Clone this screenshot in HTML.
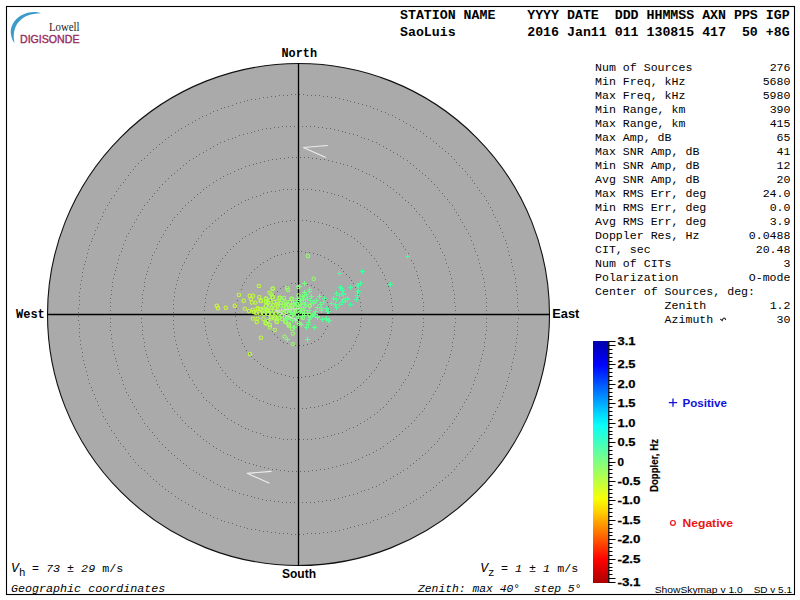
<!DOCTYPE html><html><head><meta charset="utf-8"><style>html,body{margin:0;padding:0;background:#fff;width:800px;height:600px;overflow:hidden;position:relative}</style></head><body><svg width="800" height="600" viewBox="0 0 800 600" style="position:absolute;left:0;top:0"><rect x="0" y="0" width="800" height="600" fill="#fff"/><rect x="6.5" y="6.5" width="788" height="588" fill="none" stroke="#000" stroke-width="1.1"/><path d="M41,13.2 C36,11.2 28,11.4 21,15.5 C13.5,20 10.2,27 10.8,33.5 C11.2,37.5 12.6,40.8 14.6,43 C13.6,39.5 13.4,35.5 14.2,31.5 C15.6,24.5 20,19 26.5,16 C31,14 36,13.2 41,13.2 Z" fill="#3c9bc9"/><text x="49" y="30.5" font-family="Liberation Serif" font-size="11.5" fill="#222" textLength="30.5" lengthAdjust="spacingAndGlyphs">Lowell</text><text x="20" y="43" font-family="Liberation Sans" font-size="10.6" fill="#962a60" stroke="#962a60" stroke-width="0.35" textLength="59.5" lengthAdjust="spacingAndGlyphs">DIGISONDE</text><text x="400" y="19" font-family="Liberation Mono" font-weight="bold" font-size="13.25" xml:space="preserve">STATION NAME    YYYY DATE  DDD HHMMSS AXN PPS IGP</text><text x="400" y="36" font-family="Liberation Mono" font-weight="bold" font-size="13.25" xml:space="preserve">SaoLuis         2016 Jan11 011 130815 417  50 +8G</text><circle cx="298.5" cy="314.5" r="251.0" fill="#aaaaaa" stroke="#111" stroke-width="1.1"/><path d="M329,314h1v1h-1zM329,318h1v1h-1zM328,322h1v1h-1zM327,326h1v1h-1zM325,329h1v1h-1zM323,333h1v1h-1zM321,336h1v1h-1zM318,339h1v1h-1zM314,341h1v1h-1zM311,343h1v1h-1zM307,344h1v1h-1zM303,345h1v1h-1zM299,345h1v1h-1zM295,345h1v1h-1zM291,345h1v1h-1zM287,343h1v1h-1zM283,342h1v1h-1zM280,340h1v1h-1zM277,337h1v1h-1zM274,334h1v1h-1zM272,331h1v1h-1zM270,328h1v1h-1zM268,324h1v1h-1zM267,320h1v1h-1zM267,316h1v1h-1zM267,312h1v1h-1zM267,308h1v1h-1zM268,304h1v1h-1zM270,300h1v1h-1zM272,297h1v1h-1zM274,294h1v1h-1zM277,291h1v1h-1zM280,288h1v1h-1zM283,286h1v1h-1zM287,285h1v1h-1zM291,283h1v1h-1zM295,283h1v1h-1zM299,283h1v1h-1zM303,283h1v1h-1zM307,284h1v1h-1zM311,285h1v1h-1zM314,287h1v1h-1zM318,289h1v1h-1zM321,292h1v1h-1zM323,295h1v1h-1zM325,299h1v1h-1zM327,302h1v1h-1zM328,306h1v1h-1zM329,310h1v1h-1zM361,314h1v1h-1zM361,318h1v1h-1zM360,322h1v1h-1zM360,326h1v1h-1zM359,330h1v1h-1zM358,334h1v1h-1zM356,337h1v1h-1zM355,341h1v1h-1zM353,345h1v1h-1zM351,348h1v1h-1zM349,351h1v1h-1zM346,354h1v1h-1zM343,357h1v1h-1zM341,360h1v1h-1zM338,363h1v1h-1zM334,365h1v1h-1zM331,367h1v1h-1zM328,369h1v1h-1zM324,371h1v1h-1zM320,373h1v1h-1zM317,374h1v1h-1zM313,375h1v1h-1zM309,376h1v1h-1zM305,376h1v1h-1zM301,377h1v1h-1zM297,377h1v1h-1zM293,377h1v1h-1zM289,376h1v1h-1zM285,375h1v1h-1zM281,374h1v1h-1zM277,373h1v1h-1zM274,372h1v1h-1zM270,370h1v1h-1zM267,368h1v1h-1zM263,366h1v1h-1zM260,364h1v1h-1zM257,361h1v1h-1zM254,359h1v1h-1zM251,356h1v1h-1zM249,353h1v1h-1zM246,350h1v1h-1zM244,346h1v1h-1zM242,343h1v1h-1zM241,339h1v1h-1zM239,335h1v1h-1zM238,332h1v1h-1zM237,328h1v1h-1zM236,324h1v1h-1zM236,320h1v1h-1zM235,316h1v1h-1zM235,312h1v1h-1zM236,308h1v1h-1zM236,304h1v1h-1zM237,300h1v1h-1zM238,296h1v1h-1zM239,293h1v1h-1zM241,289h1v1h-1zM242,285h1v1h-1zM244,282h1v1h-1zM246,278h1v1h-1zM249,275h1v1h-1zM251,272h1v1h-1zM254,269h1v1h-1zM257,267h1v1h-1zM260,264h1v1h-1zM263,262h1v1h-1zM267,260h1v1h-1zM270,258h1v1h-1zM274,256h1v1h-1zM277,255h1v1h-1zM281,254h1v1h-1zM285,253h1v1h-1zM289,252h1v1h-1zM293,251h1v1h-1zM297,251h1v1h-1zM301,251h1v1h-1zM305,252h1v1h-1zM309,252h1v1h-1zM313,253h1v1h-1zM317,254h1v1h-1zM320,255h1v1h-1zM324,257h1v1h-1zM328,259h1v1h-1zM331,261h1v1h-1zM334,263h1v1h-1zM338,265h1v1h-1zM341,268h1v1h-1zM343,271h1v1h-1zM346,274h1v1h-1zM349,277h1v1h-1zM351,280h1v1h-1zM353,283h1v1h-1zM355,287h1v1h-1zM356,291h1v1h-1zM358,294h1v1h-1zM359,298h1v1h-1zM360,302h1v1h-1zM360,306h1v1h-1zM361,310h1v1h-1zM392,314h1v1h-1zM392,318h1v1h-1zM392,322h1v1h-1zM391,326h1v1h-1zM391,330h1v1h-1zM390,334h1v1h-1zM389,338h1v1h-1zM388,342h1v1h-1zM387,345h1v1h-1zM385,349h1v1h-1zM384,353h1v1h-1zM382,356h1v1h-1zM380,360h1v1h-1zM378,363h1v1h-1zM376,367h1v1h-1zM374,370h1v1h-1zM371,373h1v1h-1zM369,376h1v1h-1zM366,379h1v1h-1zM363,382h1v1h-1zM360,385h1v1h-1zM357,387h1v1h-1zM354,390h1v1h-1zM351,392h1v1h-1zM347,394h1v1h-1zM344,396h1v1h-1zM340,398h1v1h-1zM337,400h1v1h-1zM333,401h1v1h-1zM329,403h1v1h-1zM326,404h1v1h-1zM322,405h1v1h-1zM318,406h1v1h-1zM314,407h1v1h-1zM310,407h1v1h-1zM306,408h1v1h-1zM302,408h1v1h-1zM298,408h1v1h-1zM294,408h1v1h-1zM290,408h1v1h-1zM286,407h1v1h-1zM282,407h1v1h-1zM278,406h1v1h-1zM274,405h1v1h-1zM270,404h1v1h-1zM267,403h1v1h-1zM263,401h1v1h-1zM259,400h1v1h-1zM256,398h1v1h-1zM252,396h1v1h-1zM249,394h1v1h-1zM245,392h1v1h-1zM242,390h1v1h-1zM239,387h1v1h-1zM236,385h1v1h-1zM233,382h1v1h-1zM230,379h1v1h-1zM227,376h1v1h-1zM225,373h1v1h-1zM222,370h1v1h-1zM220,367h1v1h-1zM218,363h1v1h-1zM216,360h1v1h-1zM214,356h1v1h-1zM212,353h1v1h-1zM211,349h1v1h-1zM209,345h1v1h-1zM208,342h1v1h-1zM207,338h1v1h-1zM206,334h1v1h-1zM205,330h1v1h-1zM205,326h1v1h-1zM204,322h1v1h-1zM204,318h1v1h-1zM204,314h1v1h-1zM204,310h1v1h-1zM204,306h1v1h-1zM205,302h1v1h-1zM205,298h1v1h-1zM206,294h1v1h-1zM207,290h1v1h-1zM208,286h1v1h-1zM209,283h1v1h-1zM211,279h1v1h-1zM212,275h1v1h-1zM214,272h1v1h-1zM216,268h1v1h-1zM218,265h1v1h-1zM220,261h1v1h-1zM222,258h1v1h-1zM225,255h1v1h-1zM227,252h1v1h-1zM230,249h1v1h-1zM233,246h1v1h-1zM236,243h1v1h-1zM239,241h1v1h-1zM242,238h1v1h-1zM245,236h1v1h-1zM249,234h1v1h-1zM252,232h1v1h-1zM256,230h1v1h-1zM259,228h1v1h-1zM263,227h1v1h-1zM267,225h1v1h-1zM270,224h1v1h-1zM274,223h1v1h-1zM278,222h1v1h-1zM282,221h1v1h-1zM286,221h1v1h-1zM290,220h1v1h-1zM294,220h1v1h-1zM298,220h1v1h-1zM302,220h1v1h-1zM306,220h1v1h-1zM310,221h1v1h-1zM314,221h1v1h-1zM318,222h1v1h-1zM322,223h1v1h-1zM326,224h1v1h-1zM329,225h1v1h-1zM333,227h1v1h-1zM337,228h1v1h-1zM340,230h1v1h-1zM344,232h1v1h-1zM347,234h1v1h-1zM351,236h1v1h-1zM354,238h1v1h-1zM357,241h1v1h-1zM360,243h1v1h-1zM363,246h1v1h-1zM366,249h1v1h-1zM369,252h1v1h-1zM371,255h1v1h-1zM374,258h1v1h-1zM376,261h1v1h-1zM378,265h1v1h-1zM380,268h1v1h-1zM382,272h1v1h-1zM384,275h1v1h-1zM385,279h1v1h-1zM387,283h1v1h-1zM388,286h1v1h-1zM389,290h1v1h-1zM390,294h1v1h-1zM391,298h1v1h-1zM391,302h1v1h-1zM392,306h1v1h-1zM392,310h1v1h-1zM424,314h1v1h-1zM423,318h1v1h-1zM423,322h1v1h-1zM423,326h1v1h-1zM422,330h1v1h-1zM422,334h1v1h-1zM421,338h1v1h-1zM420,342h1v1h-1zM419,346h1v1h-1zM418,350h1v1h-1zM417,353h1v1h-1zM416,357h1v1h-1zM414,361h1v1h-1zM413,365h1v1h-1zM411,368h1v1h-1zM409,372h1v1h-1zM408,375h1v1h-1zM405,379h1v1h-1zM403,382h1v1h-1zM401,385h1v1h-1zM399,389h1v1h-1zM396,392h1v1h-1zM394,395h1v1h-1zM391,398h1v1h-1zM388,401h1v1h-1zM386,404h1v1h-1zM383,407h1v1h-1zM380,409h1v1h-1zM377,412h1v1h-1zM374,414h1v1h-1zM370,417h1v1h-1zM367,419h1v1h-1zM364,421h1v1h-1zM360,423h1v1h-1zM357,425h1v1h-1zM353,427h1v1h-1zM349,428h1v1h-1zM346,430h1v1h-1zM342,432h1v1h-1zM338,433h1v1h-1zM334,434h1v1h-1zM331,435h1v1h-1zM327,436h1v1h-1zM323,437h1v1h-1zM319,438h1v1h-1zM315,438h1v1h-1zM311,439h1v1h-1zM307,439h1v1h-1zM303,439h1v1h-1zM299,439h1v1h-1zM295,439h1v1h-1zM291,439h1v1h-1zM287,439h1v1h-1zM283,439h1v1h-1zM279,438h1v1h-1zM275,437h1v1h-1zM271,437h1v1h-1zM267,436h1v1h-1zM263,435h1v1h-1zM260,433h1v1h-1zM256,432h1v1h-1zM252,431h1v1h-1zM248,429h1v1h-1zM245,428h1v1h-1zM241,426h1v1h-1zM238,424h1v1h-1zM234,422h1v1h-1zM231,420h1v1h-1zM227,418h1v1h-1zM224,415h1v1h-1zM221,413h1v1h-1zM218,410h1v1h-1zM215,408h1v1h-1zM212,405h1v1h-1zM209,402h1v1h-1zM206,400h1v1h-1zM203,397h1v1h-1zM201,393h1v1h-1zM198,390h1v1h-1zM196,387h1v1h-1zM194,384h1v1h-1zM192,380h1v1h-1zM189,377h1v1h-1zM188,374h1v1h-1zM186,370h1v1h-1zM184,366h1v1h-1zM182,363h1v1h-1zM181,359h1v1h-1zM179,355h1v1h-1zM178,351h1v1h-1zM177,348h1v1h-1zM176,344h1v1h-1zM175,340h1v1h-1zM174,336h1v1h-1zM174,332h1v1h-1zM173,328h1v1h-1zM173,324h1v1h-1zM173,320h1v1h-1zM173,316h1v1h-1zM173,312h1v1h-1zM173,308h1v1h-1zM173,304h1v1h-1zM173,300h1v1h-1zM174,296h1v1h-1zM174,292h1v1h-1zM175,288h1v1h-1zM176,284h1v1h-1zM177,280h1v1h-1zM178,277h1v1h-1zM179,273h1v1h-1zM181,269h1v1h-1zM182,265h1v1h-1zM184,262h1v1h-1zM186,258h1v1h-1zM188,254h1v1h-1zM189,251h1v1h-1zM192,248h1v1h-1zM194,244h1v1h-1zM196,241h1v1h-1zM198,238h1v1h-1zM201,235h1v1h-1zM203,231h1v1h-1zM206,228h1v1h-1zM209,226h1v1h-1zM212,223h1v1h-1zM215,220h1v1h-1zM218,218h1v1h-1zM221,215h1v1h-1zM224,213h1v1h-1zM227,210h1v1h-1zM231,208h1v1h-1zM234,206h1v1h-1zM238,204h1v1h-1zM241,202h1v1h-1zM245,200h1v1h-1zM248,199h1v1h-1zM252,197h1v1h-1zM256,196h1v1h-1zM260,195h1v1h-1zM263,193h1v1h-1zM267,192h1v1h-1zM271,191h1v1h-1zM275,191h1v1h-1zM279,190h1v1h-1zM283,189h1v1h-1zM287,189h1v1h-1zM291,189h1v1h-1zM295,189h1v1h-1zM299,189h1v1h-1zM303,189h1v1h-1zM307,189h1v1h-1zM311,189h1v1h-1zM315,190h1v1h-1zM319,190h1v1h-1zM323,191h1v1h-1zM327,192h1v1h-1zM331,193h1v1h-1zM334,194h1v1h-1zM338,195h1v1h-1zM342,196h1v1h-1zM346,198h1v1h-1zM349,200h1v1h-1zM353,201h1v1h-1zM357,203h1v1h-1zM360,205h1v1h-1zM364,207h1v1h-1zM367,209h1v1h-1zM370,211h1v1h-1zM374,214h1v1h-1zM377,216h1v1h-1zM380,219h1v1h-1zM383,221h1v1h-1zM386,224h1v1h-1zM388,227h1v1h-1zM391,230h1v1h-1zM394,233h1v1h-1zM396,236h1v1h-1zM399,239h1v1h-1zM401,243h1v1h-1zM403,246h1v1h-1zM405,249h1v1h-1zM408,253h1v1h-1zM409,256h1v1h-1zM411,260h1v1h-1zM413,263h1v1h-1zM414,267h1v1h-1zM416,271h1v1h-1zM417,275h1v1h-1zM418,278h1v1h-1zM419,282h1v1h-1zM420,286h1v1h-1zM421,290h1v1h-1zM422,294h1v1h-1zM422,298h1v1h-1zM423,302h1v1h-1zM423,306h1v1h-1zM423,310h1v1h-1zM455,314h1v1h-1zM455,318h1v1h-1zM455,322h1v1h-1zM454,326h1v1h-1zM454,330h1v1h-1zM454,334h1v1h-1zM453,338h1v1h-1zM452,342h1v1h-1zM452,346h1v1h-1zM451,350h1v1h-1zM450,354h1v1h-1zM449,357h1v1h-1zM448,361h1v1h-1zM446,365h1v1h-1zM445,369h1v1h-1zM444,373h1v1h-1zM442,376h1v1h-1zM440,380h1v1h-1zM439,384h1v1h-1zM437,387h1v1h-1zM435,391h1v1h-1zM433,394h1v1h-1zM431,398h1v1h-1zM429,401h1v1h-1zM426,404h1v1h-1zM424,408h1v1h-1zM422,411h1v1h-1zM419,414h1v1h-1zM416,417h1v1h-1zM414,420h1v1h-1zM411,423h1v1h-1zM408,426h1v1h-1zM405,428h1v1h-1zM402,431h1v1h-1zM399,434h1v1h-1zM396,436h1v1h-1zM393,439h1v1h-1zM390,441h1v1h-1zM387,443h1v1h-1zM383,446h1v1h-1zM380,448h1v1h-1zM376,450h1v1h-1zM373,452h1v1h-1zM369,454h1v1h-1zM366,455h1v1h-1zM362,457h1v1h-1zM358,459h1v1h-1zM355,460h1v1h-1zM351,462h1v1h-1zM347,463h1v1h-1zM343,464h1v1h-1zM340,465h1v1h-1zM336,466h1v1h-1zM332,467h1v1h-1zM328,468h1v1h-1zM324,469h1v1h-1zM320,469h1v1h-1zM316,470h1v1h-1zM312,470h1v1h-1zM308,471h1v1h-1zM304,471h1v1h-1zM300,471h1v1h-1zM296,471h1v1h-1zM292,471h1v1h-1zM288,471h1v1h-1zM284,470h1v1h-1zM280,470h1v1h-1zM276,469h1v1h-1zM272,469h1v1h-1zM268,468h1v1h-1zM264,467h1v1h-1zM260,466h1v1h-1zM256,465h1v1h-1zM253,464h1v1h-1zM249,463h1v1h-1zM245,462h1v1h-1zM241,460h1v1h-1zM238,459h1v1h-1zM234,457h1v1h-1zM230,455h1v1h-1zM227,454h1v1h-1zM223,452h1v1h-1zM220,450h1v1h-1zM216,448h1v1h-1zM213,446h1v1h-1zM209,443h1v1h-1zM206,441h1v1h-1zM203,439h1v1h-1zM200,436h1v1h-1zM197,434h1v1h-1zM194,431h1v1h-1zM191,428h1v1h-1zM188,426h1v1h-1zM185,423h1v1h-1zM182,420h1v1h-1zM180,417h1v1h-1zM177,414h1v1h-1zM174,411h1v1h-1zM172,408h1v1h-1zM170,404h1v1h-1zM167,401h1v1h-1zM165,398h1v1h-1zM163,394h1v1h-1zM161,391h1v1h-1zM159,387h1v1h-1zM157,384h1v1h-1zM156,380h1v1h-1zM154,376h1v1h-1zM152,373h1v1h-1zM151,369h1v1h-1zM150,365h1v1h-1zM148,361h1v1h-1zM147,357h1v1h-1zM146,354h1v1h-1zM145,350h1v1h-1zM144,346h1v1h-1zM144,342h1v1h-1zM143,338h1v1h-1zM142,334h1v1h-1zM142,330h1v1h-1zM142,326h1v1h-1zM141,322h1v1h-1zM141,318h1v1h-1zM141,314h1v1h-1zM141,310h1v1h-1zM141,306h1v1h-1zM142,302h1v1h-1zM142,298h1v1h-1zM142,294h1v1h-1zM143,290h1v1h-1zM144,286h1v1h-1zM144,282h1v1h-1zM145,278h1v1h-1zM146,274h1v1h-1zM147,271h1v1h-1zM148,267h1v1h-1zM150,263h1v1h-1zM151,259h1v1h-1zM152,255h1v1h-1zM154,252h1v1h-1zM156,248h1v1h-1zM157,244h1v1h-1zM159,241h1v1h-1zM161,237h1v1h-1zM163,234h1v1h-1zM165,230h1v1h-1zM167,227h1v1h-1zM170,224h1v1h-1zM172,220h1v1h-1zM174,217h1v1h-1zM177,214h1v1h-1zM180,211h1v1h-1zM182,208h1v1h-1zM185,205h1v1h-1zM188,202h1v1h-1zM191,200h1v1h-1zM194,197h1v1h-1zM197,194h1v1h-1zM200,192h1v1h-1zM203,189h1v1h-1zM206,187h1v1h-1zM209,185h1v1h-1zM213,182h1v1h-1zM216,180h1v1h-1zM220,178h1v1h-1zM223,176h1v1h-1zM227,174h1v1h-1zM230,173h1v1h-1zM234,171h1v1h-1zM238,169h1v1h-1zM241,168h1v1h-1zM245,166h1v1h-1zM249,165h1v1h-1zM253,164h1v1h-1zM256,163h1v1h-1zM260,162h1v1h-1zM264,161h1v1h-1zM268,160h1v1h-1zM272,159h1v1h-1zM276,159h1v1h-1zM280,158h1v1h-1zM284,158h1v1h-1zM288,157h1v1h-1zM292,157h1v1h-1zM296,157h1v1h-1zM300,157h1v1h-1zM304,157h1v1h-1zM308,157h1v1h-1zM312,158h1v1h-1zM316,158h1v1h-1zM320,159h1v1h-1zM324,159h1v1h-1zM328,160h1v1h-1zM332,161h1v1h-1zM336,162h1v1h-1zM340,163h1v1h-1zM343,164h1v1h-1zM347,165h1v1h-1zM351,166h1v1h-1zM355,168h1v1h-1zM358,169h1v1h-1zM362,171h1v1h-1zM366,173h1v1h-1zM369,174h1v1h-1zM373,176h1v1h-1zM376,178h1v1h-1zM380,180h1v1h-1zM383,182h1v1h-1zM387,185h1v1h-1zM390,187h1v1h-1zM393,189h1v1h-1zM396,192h1v1h-1zM399,194h1v1h-1zM402,197h1v1h-1zM405,200h1v1h-1zM408,202h1v1h-1zM411,205h1v1h-1zM414,208h1v1h-1zM416,211h1v1h-1zM419,214h1v1h-1zM422,217h1v1h-1zM424,220h1v1h-1zM426,224h1v1h-1zM429,227h1v1h-1zM431,230h1v1h-1zM433,234h1v1h-1zM435,237h1v1h-1zM437,241h1v1h-1zM439,244h1v1h-1zM440,248h1v1h-1zM442,252h1v1h-1zM444,255h1v1h-1zM445,259h1v1h-1zM446,263h1v1h-1zM448,267h1v1h-1zM449,271h1v1h-1zM450,274h1v1h-1zM451,278h1v1h-1zM452,282h1v1h-1zM452,286h1v1h-1zM453,290h1v1h-1zM454,294h1v1h-1zM454,298h1v1h-1zM454,302h1v1h-1zM455,306h1v1h-1zM455,310h1v1h-1zM486,314h1v1h-1zM486,318h1v1h-1zM486,322h1v1h-1zM486,326h1v1h-1zM486,330h1v1h-1zM485,334h1v1h-1zM485,338h1v1h-1zM484,342h1v1h-1zM484,346h1v1h-1zM483,350h1v1h-1zM482,354h1v1h-1zM481,358h1v1h-1zM480,361h1v1h-1zM479,365h1v1h-1zM478,369h1v1h-1zM477,373h1v1h-1zM475,377h1v1h-1zM474,380h1v1h-1zM473,384h1v1h-1zM471,388h1v1h-1zM470,392h1v1h-1zM468,395h1v1h-1zM466,399h1v1h-1zM464,402h1v1h-1zM462,406h1v1h-1zM460,409h1v1h-1zM458,413h1v1h-1zM456,416h1v1h-1zM454,419h1v1h-1zM452,423h1v1h-1zM449,426h1v1h-1zM447,429h1v1h-1zM444,432h1v1h-1zM442,435h1v1h-1zM439,438h1v1h-1zM437,441h1v1h-1zM434,444h1v1h-1zM431,447h1v1h-1zM428,450h1v1h-1zM425,453h1v1h-1zM422,455h1v1h-1zM419,458h1v1h-1zM416,460h1v1h-1zM413,463h1v1h-1zM410,465h1v1h-1zM407,468h1v1h-1zM403,470h1v1h-1zM400,472h1v1h-1zM397,474h1v1h-1zM393,476h1v1h-1zM390,478h1v1h-1zM386,480h1v1h-1zM383,482h1v1h-1zM379,484h1v1h-1zM376,486h1v1h-1zM372,487h1v1h-1zM368,489h1v1h-1zM364,490h1v1h-1zM361,491h1v1h-1zM357,493h1v1h-1zM353,494h1v1h-1zM349,495h1v1h-1zM345,496h1v1h-1zM342,497h1v1h-1zM338,498h1v1h-1zM334,499h1v1h-1zM330,500h1v1h-1zM326,500h1v1h-1zM322,501h1v1h-1zM318,501h1v1h-1zM314,502h1v1h-1zM310,502h1v1h-1zM306,502h1v1h-1zM302,502h1v1h-1zM298,502h1v1h-1zM294,502h1v1h-1zM290,502h1v1h-1zM286,502h1v1h-1zM282,502h1v1h-1zM278,501h1v1h-1zM274,501h1v1h-1zM270,500h1v1h-1zM266,500h1v1h-1zM262,499h1v1h-1zM258,498h1v1h-1zM254,497h1v1h-1zM251,496h1v1h-1zM247,495h1v1h-1zM243,494h1v1h-1zM239,493h1v1h-1zM235,491h1v1h-1zM232,490h1v1h-1zM228,489h1v1h-1zM224,487h1v1h-1zM220,486h1v1h-1zM217,484h1v1h-1zM213,482h1v1h-1zM210,480h1v1h-1zM206,478h1v1h-1zM203,476h1v1h-1zM199,474h1v1h-1zM196,472h1v1h-1zM193,470h1v1h-1zM189,468h1v1h-1zM186,465h1v1h-1zM183,463h1v1h-1zM180,460h1v1h-1zM177,458h1v1h-1zM174,455h1v1h-1zM171,453h1v1h-1zM168,450h1v1h-1zM165,447h1v1h-1zM162,444h1v1h-1zM159,441h1v1h-1zM157,438h1v1h-1zM154,435h1v1h-1zM152,432h1v1h-1zM149,429h1v1h-1zM147,426h1v1h-1zM144,423h1v1h-1zM142,419h1v1h-1zM140,416h1v1h-1zM138,413h1v1h-1zM136,409h1v1h-1zM134,406h1v1h-1zM132,402h1v1h-1zM130,399h1v1h-1zM128,395h1v1h-1zM126,392h1v1h-1zM125,388h1v1h-1zM123,384h1v1h-1zM122,380h1v1h-1zM121,377h1v1h-1zM119,373h1v1h-1zM118,369h1v1h-1zM117,365h1v1h-1zM116,361h1v1h-1zM115,358h1v1h-1zM114,354h1v1h-1zM113,350h1v1h-1zM112,346h1v1h-1zM112,342h1v1h-1zM111,338h1v1h-1zM111,334h1v1h-1zM110,330h1v1h-1zM110,326h1v1h-1zM110,322h1v1h-1zM110,318h1v1h-1zM110,314h1v1h-1zM110,310h1v1h-1zM110,306h1v1h-1zM110,302h1v1h-1zM110,298h1v1h-1zM111,294h1v1h-1zM111,290h1v1h-1zM112,286h1v1h-1zM112,282h1v1h-1zM113,278h1v1h-1zM114,274h1v1h-1zM115,270h1v1h-1zM116,267h1v1h-1zM117,263h1v1h-1zM118,259h1v1h-1zM119,255h1v1h-1zM121,251h1v1h-1zM122,248h1v1h-1zM123,244h1v1h-1zM125,240h1v1h-1zM126,236h1v1h-1zM128,233h1v1h-1zM130,229h1v1h-1zM132,226h1v1h-1zM134,222h1v1h-1zM136,219h1v1h-1zM138,215h1v1h-1zM140,212h1v1h-1zM142,209h1v1h-1zM144,205h1v1h-1zM147,202h1v1h-1zM149,199h1v1h-1zM152,196h1v1h-1zM154,193h1v1h-1zM157,190h1v1h-1zM159,187h1v1h-1zM162,184h1v1h-1zM165,181h1v1h-1zM168,178h1v1h-1zM171,175h1v1h-1zM174,173h1v1h-1zM177,170h1v1h-1zM180,168h1v1h-1zM183,165h1v1h-1zM186,163h1v1h-1zM189,160h1v1h-1zM193,158h1v1h-1zM196,156h1v1h-1zM199,154h1v1h-1zM203,152h1v1h-1zM206,150h1v1h-1zM210,148h1v1h-1zM213,146h1v1h-1zM217,144h1v1h-1zM220,142h1v1h-1zM224,141h1v1h-1zM228,139h1v1h-1zM232,138h1v1h-1zM235,137h1v1h-1zM239,135h1v1h-1zM243,134h1v1h-1zM247,133h1v1h-1zM251,132h1v1h-1zM254,131h1v1h-1zM258,130h1v1h-1zM262,129h1v1h-1zM266,128h1v1h-1zM270,128h1v1h-1zM274,127h1v1h-1zM278,127h1v1h-1zM282,126h1v1h-1zM286,126h1v1h-1zM290,126h1v1h-1zM294,126h1v1h-1zM298,126h1v1h-1zM302,126h1v1h-1zM306,126h1v1h-1zM310,126h1v1h-1zM314,126h1v1h-1zM318,127h1v1h-1zM322,127h1v1h-1zM326,128h1v1h-1zM330,128h1v1h-1zM334,129h1v1h-1zM338,130h1v1h-1zM342,131h1v1h-1zM345,132h1v1h-1zM349,133h1v1h-1zM353,134h1v1h-1zM357,135h1v1h-1zM361,137h1v1h-1zM364,138h1v1h-1zM368,139h1v1h-1zM372,141h1v1h-1zM376,142h1v1h-1zM379,144h1v1h-1zM383,146h1v1h-1zM386,148h1v1h-1zM390,150h1v1h-1zM393,152h1v1h-1zM397,154h1v1h-1zM400,156h1v1h-1zM403,158h1v1h-1zM407,160h1v1h-1zM410,163h1v1h-1zM413,165h1v1h-1zM416,168h1v1h-1zM419,170h1v1h-1zM422,173h1v1h-1zM425,175h1v1h-1zM428,178h1v1h-1zM431,181h1v1h-1zM434,184h1v1h-1zM437,187h1v1h-1zM439,190h1v1h-1zM442,193h1v1h-1zM444,196h1v1h-1zM447,199h1v1h-1zM449,202h1v1h-1zM452,205h1v1h-1zM454,209h1v1h-1zM456,212h1v1h-1zM458,215h1v1h-1zM460,219h1v1h-1zM462,222h1v1h-1zM464,226h1v1h-1zM466,229h1v1h-1zM468,233h1v1h-1zM470,236h1v1h-1zM471,240h1v1h-1zM473,244h1v1h-1zM474,248h1v1h-1zM475,251h1v1h-1zM477,255h1v1h-1zM478,259h1v1h-1zM479,263h1v1h-1zM480,267h1v1h-1zM481,270h1v1h-1zM482,274h1v1h-1zM483,278h1v1h-1zM484,282h1v1h-1zM484,286h1v1h-1zM485,290h1v1h-1zM485,294h1v1h-1zM486,298h1v1h-1zM486,302h1v1h-1zM486,306h1v1h-1zM486,310h1v1h-1zM518,314h1v1h-1zM518,318h1v1h-1zM517,322h1v1h-1zM517,326h1v1h-1zM517,330h1v1h-1zM517,334h1v1h-1zM516,338h1v1h-1zM516,342h1v1h-1zM515,346h1v1h-1zM515,350h1v1h-1zM514,354h1v1h-1zM513,358h1v1h-1zM512,362h1v1h-1zM511,366h1v1h-1zM511,369h1v1h-1zM509,373h1v1h-1zM508,377h1v1h-1zM507,381h1v1h-1zM506,385h1v1h-1zM505,388h1v1h-1zM503,392h1v1h-1zM502,396h1v1h-1zM500,400h1v1h-1zM499,403h1v1h-1zM497,407h1v1h-1zM495,411h1v1h-1zM493,414h1v1h-1zM492,418h1v1h-1zM490,421h1v1h-1zM488,425h1v1h-1zM486,428h1v1h-1zM484,432h1v1h-1zM481,435h1v1h-1zM479,438h1v1h-1zM477,441h1v1h-1zM474,445h1v1h-1zM472,448h1v1h-1zM470,451h1v1h-1zM467,454h1v1h-1zM465,457h1v1h-1zM462,460h1v1h-1zM459,463h1v1h-1zM456,466h1v1h-1zM454,469h1v1h-1zM451,472h1v1h-1zM448,475h1v1h-1zM445,477h1v1h-1zM442,480h1v1h-1zM439,482h1v1h-1zM436,485h1v1h-1zM433,487h1v1h-1zM430,490h1v1h-1zM426,492h1v1h-1zM423,495h1v1h-1zM420,497h1v1h-1zM416,499h1v1h-1zM413,501h1v1h-1zM410,503h1v1h-1zM406,505h1v1h-1zM403,507h1v1h-1zM399,509h1v1h-1zM395,511h1v1h-1zM392,513h1v1h-1zM388,514h1v1h-1zM385,516h1v1h-1zM381,517h1v1h-1zM377,519h1v1h-1zM373,520h1v1h-1zM370,522h1v1h-1zM366,523h1v1h-1zM362,524h1v1h-1zM358,525h1v1h-1zM354,526h1v1h-1zM350,527h1v1h-1zM347,528h1v1h-1zM343,529h1v1h-1zM339,530h1v1h-1zM335,531h1v1h-1zM331,531h1v1h-1zM327,532h1v1h-1zM323,532h1v1h-1zM319,533h1v1h-1zM315,533h1v1h-1zM311,533h1v1h-1zM307,533h1v1h-1zM303,534h1v1h-1zM299,534h1v1h-1zM295,534h1v1h-1zM291,534h1v1h-1zM287,533h1v1h-1zM283,533h1v1h-1zM279,533h1v1h-1zM275,532h1v1h-1zM271,532h1v1h-1zM267,531h1v1h-1zM263,531h1v1h-1zM259,530h1v1h-1zM255,529h1v1h-1zM251,529h1v1h-1zM247,528h1v1h-1zM244,527h1v1h-1zM240,526h1v1h-1zM236,525h1v1h-1zM232,523h1v1h-1zM228,522h1v1h-1zM224,521h1v1h-1zM221,520h1v1h-1zM217,518h1v1h-1zM213,517h1v1h-1zM210,515h1v1h-1zM206,513h1v1h-1zM202,512h1v1h-1zM199,510h1v1h-1zM195,508h1v1h-1zM192,506h1v1h-1zM188,504h1v1h-1zM185,502h1v1h-1zM181,500h1v1h-1zM178,498h1v1h-1zM175,496h1v1h-1zM171,493h1v1h-1zM168,491h1v1h-1zM165,489h1v1h-1zM162,486h1v1h-1zM159,484h1v1h-1zM156,481h1v1h-1zM153,479h1v1h-1zM150,476h1v1h-1zM147,473h1v1h-1zM144,470h1v1h-1zM141,468h1v1h-1zM138,465h1v1h-1zM135,462h1v1h-1zM133,459h1v1h-1zM130,456h1v1h-1zM128,453h1v1h-1zM125,449h1v1h-1zM123,446h1v1h-1zM120,443h1v1h-1zM118,440h1v1h-1zM116,437h1v1h-1zM114,433h1v1h-1zM111,430h1v1h-1zM109,426h1v1h-1zM107,423h1v1h-1zM105,419h1v1h-1zM103,416h1v1h-1zM102,412h1v1h-1zM100,409h1v1h-1zM98,405h1v1h-1zM97,401h1v1h-1zM95,398h1v1h-1zM94,394h1v1h-1zM92,390h1v1h-1zM91,387h1v1h-1zM89,383h1v1h-1zM88,379h1v1h-1zM87,375h1v1h-1zM86,371h1v1h-1zM85,367h1v1h-1zM84,364h1v1h-1zM83,360h1v1h-1zM82,356h1v1h-1zM82,352h1v1h-1zM81,348h1v1h-1zM80,344h1v1h-1zM80,340h1v1h-1zM79,336h1v1h-1zM79,332h1v1h-1zM79,328h1v1h-1zM79,324h1v1h-1zM78,320h1v1h-1zM78,316h1v1h-1zM78,312h1v1h-1zM78,308h1v1h-1zM79,304h1v1h-1zM79,300h1v1h-1zM79,296h1v1h-1zM79,292h1v1h-1zM80,288h1v1h-1zM80,284h1v1h-1zM81,280h1v1h-1zM82,276h1v1h-1zM82,272h1v1h-1zM83,268h1v1h-1zM84,264h1v1h-1zM85,261h1v1h-1zM86,257h1v1h-1zM87,253h1v1h-1zM88,249h1v1h-1zM89,245h1v1h-1zM91,241h1v1h-1zM92,238h1v1h-1zM94,234h1v1h-1zM95,230h1v1h-1zM97,227h1v1h-1zM98,223h1v1h-1zM100,219h1v1h-1zM102,216h1v1h-1zM103,212h1v1h-1zM105,209h1v1h-1zM107,205h1v1h-1zM109,202h1v1h-1zM111,198h1v1h-1zM114,195h1v1h-1zM116,191h1v1h-1zM118,188h1v1h-1zM120,185h1v1h-1zM123,182h1v1h-1zM125,179h1v1h-1zM128,175h1v1h-1zM130,172h1v1h-1zM133,169h1v1h-1zM135,166h1v1h-1zM138,163h1v1h-1zM141,160h1v1h-1zM144,158h1v1h-1zM147,155h1v1h-1zM150,152h1v1h-1zM153,149h1v1h-1zM156,147h1v1h-1zM159,144h1v1h-1zM162,142h1v1h-1zM165,139h1v1h-1zM168,137h1v1h-1zM171,135h1v1h-1zM175,132h1v1h-1zM178,130h1v1h-1zM181,128h1v1h-1zM185,126h1v1h-1zM188,124h1v1h-1zM192,122h1v1h-1zM195,120h1v1h-1zM199,118h1v1h-1zM202,116h1v1h-1zM206,115h1v1h-1zM210,113h1v1h-1zM213,111h1v1h-1zM217,110h1v1h-1zM221,108h1v1h-1zM224,107h1v1h-1zM228,106h1v1h-1zM232,105h1v1h-1zM236,103h1v1h-1zM240,102h1v1h-1zM244,101h1v1h-1zM247,100h1v1h-1zM251,99h1v1h-1zM255,99h1v1h-1zM259,98h1v1h-1zM263,97h1v1h-1zM267,97h1v1h-1zM271,96h1v1h-1zM275,96h1v1h-1zM279,95h1v1h-1zM283,95h1v1h-1zM287,95h1v1h-1zM291,94h1v1h-1zM295,94h1v1h-1zM299,94h1v1h-1zM303,94h1v1h-1zM307,95h1v1h-1zM311,95h1v1h-1zM315,95h1v1h-1zM319,95h1v1h-1zM323,96h1v1h-1zM327,96h1v1h-1zM331,97h1v1h-1zM335,97h1v1h-1zM339,98h1v1h-1zM343,99h1v1h-1zM347,100h1v1h-1zM350,101h1v1h-1zM354,102h1v1h-1zM358,103h1v1h-1zM362,104h1v1h-1zM366,105h1v1h-1zM370,106h1v1h-1zM373,108h1v1h-1zM377,109h1v1h-1zM381,111h1v1h-1zM385,112h1v1h-1zM388,114h1v1h-1zM392,115h1v1h-1zM395,117h1v1h-1zM399,119h1v1h-1zM403,121h1v1h-1zM406,123h1v1h-1zM410,125h1v1h-1zM413,127h1v1h-1zM416,129h1v1h-1zM420,131h1v1h-1zM423,133h1v1h-1zM426,136h1v1h-1zM430,138h1v1h-1zM433,141h1v1h-1zM436,143h1v1h-1zM439,146h1v1h-1zM442,148h1v1h-1zM445,151h1v1h-1zM448,153h1v1h-1zM451,156h1v1h-1zM454,159h1v1h-1zM456,162h1v1h-1zM459,165h1v1h-1zM462,168h1v1h-1zM465,171h1v1h-1zM467,174h1v1h-1zM470,177h1v1h-1zM472,180h1v1h-1zM474,183h1v1h-1zM477,187h1v1h-1zM479,190h1v1h-1zM481,193h1v1h-1zM484,196h1v1h-1zM486,200h1v1h-1zM488,203h1v1h-1zM490,207h1v1h-1zM492,210h1v1h-1zM493,214h1v1h-1zM495,217h1v1h-1zM497,221h1v1h-1zM499,225h1v1h-1zM500,228h1v1h-1zM502,232h1v1h-1zM503,236h1v1h-1zM505,240h1v1h-1zM506,243h1v1h-1zM507,247h1v1h-1zM508,251h1v1h-1zM509,255h1v1h-1zM511,259h1v1h-1zM511,262h1v1h-1zM512,266h1v1h-1zM513,270h1v1h-1zM514,274h1v1h-1zM515,278h1v1h-1zM515,282h1v1h-1zM516,286h1v1h-1zM516,290h1v1h-1zM517,294h1v1h-1zM517,298h1v1h-1zM517,302h1v1h-1zM517,306h1v1h-1zM518,310h1v1h-1z" fill="#666666"/><line x1="298.5" y1="63.5" x2="298.5" y2="565.5" stroke="#000" stroke-width="1.3"/><line x1="47.5" y1="314.5" x2="549.5" y2="314.5" stroke="#000" stroke-width="1.3"/><text x="281.5" y="57" font-family="Liberation Mono" font-weight="bold" font-size="12.8" textLength="35.5" lengthAdjust="spacingAndGlyphs">North</text><text x="299" y="578" text-anchor="middle" font-family="Liberation Sans" font-weight="bold" font-size="12">South</text><text x="16" y="318" font-family="Liberation Mono" font-weight="bold" font-size="12">West</text><text x="552.3" y="318" font-family="Liberation Sans" font-weight="bold" font-size="12" textLength="27" lengthAdjust="spacingAndGlyphs">East</text><polyline points="327.8,145.5 303.3,147.5 325.8,157.5" fill="none" stroke="#ececec" stroke-width="1.2"/><polyline points="271.5,471.3 247,473.3 269.5,483.3" fill="none" stroke="#ececec" stroke-width="1.2"/><circle cx="307.90" cy="255.90" r="1.7" fill="none" stroke="rgb(140,255,108)" stroke-width="1.05"/><circle cx="313.75" cy="278.75" r="1.7" fill="none" stroke="rgb(140,255,108)" stroke-width="1.05"/><circle cx="258.80" cy="285.90" r="1.7" fill="none" stroke="rgb(192,255,50)" stroke-width="1.05"/><circle cx="238.90" cy="294.90" r="1.7" fill="none" stroke="rgb(192,255,50)" stroke-width="1.05"/><circle cx="216.75" cy="305.70" r="1.7" fill="none" stroke="rgb(205,255,36)" stroke-width="1.05"/><circle cx="218.00" cy="308.20" r="1.7" fill="none" stroke="rgb(205,255,36)" stroke-width="1.05"/><circle cx="225.75" cy="307.75" r="1.7" fill="none" stroke="rgb(205,255,36)" stroke-width="1.05"/><circle cx="234.75" cy="305.80" r="1.7" fill="none" stroke="rgb(205,255,36)" stroke-width="1.05"/><circle cx="243.70" cy="300.80" r="1.7" fill="none" stroke="rgb(192,255,50)" stroke-width="1.05"/><circle cx="244.80" cy="308.60" r="1.7" fill="none" stroke="rgb(192,255,50)" stroke-width="1.05"/><circle cx="249.75" cy="295.75" r="1.7" fill="none" stroke="rgb(192,255,50)" stroke-width="1.05"/><circle cx="253.10" cy="295.75" r="1.7" fill="none" stroke="rgb(192,255,50)" stroke-width="1.05"/><circle cx="250.80" cy="298.75" r="1.7" fill="none" stroke="rgb(192,255,50)" stroke-width="1.05"/><circle cx="251.80" cy="302.50" r="1.7" fill="none" stroke="rgb(192,255,50)" stroke-width="1.05"/><circle cx="255.60" cy="302.60" r="1.7" fill="none" stroke="rgb(192,255,50)" stroke-width="1.05"/><circle cx="259.30" cy="297.20" r="1.7" fill="none" stroke="rgb(192,255,50)" stroke-width="1.05"/><circle cx="260.75" cy="300.50" r="1.7" fill="none" stroke="rgb(192,255,50)" stroke-width="1.05"/><circle cx="265.80" cy="298.60" r="1.7" fill="none" stroke="rgb(176,255,72)" stroke-width="1.05"/><circle cx="265.80" cy="301.80" r="1.7" fill="none" stroke="rgb(176,255,72)" stroke-width="1.05"/><circle cx="268.00" cy="302.75" r="1.7" fill="none" stroke="rgb(176,255,72)" stroke-width="1.05"/><circle cx="261.00" cy="301.00" r="1.7" fill="none" stroke="rgb(192,255,50)" stroke-width="1.05"/><circle cx="266.20" cy="302.10" r="1.7" fill="none" stroke="rgb(176,255,72)" stroke-width="1.05"/><circle cx="269.50" cy="292.60" r="1.7" fill="none" stroke="rgb(176,255,72)" stroke-width="1.05"/><circle cx="271.50" cy="294.50" r="1.7" fill="none" stroke="rgb(176,255,72)" stroke-width="1.05"/><circle cx="273.00" cy="297.30" r="1.7" fill="none" stroke="rgb(176,255,72)" stroke-width="1.05"/><circle cx="273.00" cy="288.75" r="1.7" fill="none" stroke="rgb(176,255,72)" stroke-width="1.05"/><circle cx="280.00" cy="297.75" r="1.7" fill="none" stroke="rgb(152,255,98)" stroke-width="1.05"/><circle cx="272.60" cy="288.50" r="1.7" fill="none" stroke="rgb(176,255,72)" stroke-width="1.05"/><circle cx="287.00" cy="287.75" r="1.7" fill="none" stroke="rgb(152,255,98)" stroke-width="1.05"/><circle cx="288.00" cy="290.00" r="1.7" fill="none" stroke="rgb(152,255,98)" stroke-width="1.05"/><circle cx="252.75" cy="309.60" r="1.7" fill="none" stroke="rgb(192,255,50)" stroke-width="1.05"/><circle cx="257.50" cy="308.30" r="1.7" fill="none" stroke="rgb(192,255,50)" stroke-width="1.05"/><circle cx="260.50" cy="309.00" r="1.7" fill="none" stroke="rgb(192,255,50)" stroke-width="1.05"/><circle cx="264.00" cy="308.50" r="1.7" fill="none" stroke="rgb(176,255,72)" stroke-width="1.05"/><circle cx="266.50" cy="310.00" r="1.7" fill="none" stroke="rgb(176,255,72)" stroke-width="1.05"/><circle cx="258.00" cy="308.90" r="1.7" fill="none" stroke="rgb(192,255,50)" stroke-width="1.05"/><circle cx="262.50" cy="310.00" r="1.7" fill="none" stroke="rgb(176,255,72)" stroke-width="1.05"/><circle cx="268.00" cy="310.75" r="1.7" fill="none" stroke="rgb(176,255,72)" stroke-width="1.05"/><circle cx="252.90" cy="318.60" r="1.7" fill="none" stroke="rgb(192,255,50)" stroke-width="1.05"/><circle cx="256.75" cy="322.00" r="1.7" fill="none" stroke="rgb(192,255,50)" stroke-width="1.05"/><circle cx="257.50" cy="318.60" r="1.7" fill="none" stroke="rgb(192,255,50)" stroke-width="1.05"/><circle cx="263.50" cy="319.00" r="1.7" fill="none" stroke="rgb(176,255,72)" stroke-width="1.05"/><circle cx="265.40" cy="322.75" r="1.7" fill="none" stroke="rgb(176,255,72)" stroke-width="1.05"/><circle cx="265.90" cy="323.60" r="1.7" fill="none" stroke="rgb(176,255,72)" stroke-width="1.05"/><circle cx="269.90" cy="325.00" r="1.7" fill="none" stroke="rgb(176,255,72)" stroke-width="1.05"/><circle cx="269.90" cy="327.30" r="1.7" fill="none" stroke="rgb(176,255,72)" stroke-width="1.05"/><circle cx="274.75" cy="329.90" r="1.7" fill="none" stroke="rgb(176,255,72)" stroke-width="1.05"/><circle cx="260.90" cy="337.75" r="1.7" fill="none" stroke="rgb(192,255,50)" stroke-width="1.05"/><circle cx="250.00" cy="354.30" r="1.7" fill="none" stroke="rgb(192,255,50)" stroke-width="1.05"/><circle cx="284.50" cy="336.60" r="1.7" fill="none" stroke="rgb(152,255,98)" stroke-width="1.05"/><circle cx="292.75" cy="344.10" r="1.7" fill="none" stroke="rgb(152,255,98)" stroke-width="1.05"/><circle cx="292.90" cy="333.60" r="1.7" fill="none" stroke="rgb(152,255,98)" stroke-width="1.05"/><circle cx="271.00" cy="318.60" r="1.7" fill="none" stroke="rgb(176,255,72)" stroke-width="1.05"/><circle cx="274.75" cy="318.25" r="1.7" fill="none" stroke="rgb(176,255,72)" stroke-width="1.05"/><circle cx="279.25" cy="318.25" r="1.7" fill="none" stroke="rgb(176,255,72)" stroke-width="1.05"/><circle cx="277.00" cy="322.00" r="1.7" fill="none" stroke="rgb(176,255,72)" stroke-width="1.05"/><circle cx="286.00" cy="322.00" r="1.7" fill="none" stroke="rgb(152,255,98)" stroke-width="1.05"/><circle cx="289.00" cy="324.25" r="1.7" fill="none" stroke="rgb(152,255,98)" stroke-width="1.05"/><circle cx="289.00" cy="326.10" r="1.7" fill="none" stroke="rgb(152,255,98)" stroke-width="1.05"/><circle cx="292.00" cy="328.75" r="1.7" fill="none" stroke="rgb(152,255,98)" stroke-width="1.05"/><circle cx="298.60" cy="323.50" r="1.7" fill="none" stroke="rgb(140,255,108)" stroke-width="1.05"/><circle cx="309.50" cy="314.50" r="1.7" fill="none" stroke="rgb(140,255,108)" stroke-width="1.05"/><circle cx="302.75" cy="317.90" r="1.7" fill="none" stroke="rgb(140,255,108)" stroke-width="1.05"/><circle cx="301.90" cy="301.75" r="1.7" fill="none" stroke="rgb(140,255,108)" stroke-width="1.05"/><circle cx="309.75" cy="305.90" r="1.7" fill="none" stroke="rgb(140,255,108)" stroke-width="1.05"/><circle cx="309.40" cy="314.90" r="1.7" fill="none" stroke="rgb(140,255,108)" stroke-width="1.05"/><circle cx="313.50" cy="314.90" r="1.7" fill="none" stroke="rgb(140,255,108)" stroke-width="1.05"/><circle cx="343.50" cy="300.60" r="1.7" fill="none" stroke="rgb(100,255,150)" stroke-width="1.05"/><circle cx="344.10" cy="300.50" r="1.7" fill="none" stroke="rgb(100,255,150)" stroke-width="1.05"/><circle cx="298.50" cy="287.00" r="1.7" fill="none" stroke="rgb(140,255,108)" stroke-width="1.05"/><circle cx="298.50" cy="295.50" r="1.7" fill="none" stroke="rgb(140,255,108)" stroke-width="1.05"/><circle cx="292.00" cy="298.75" r="1.7" fill="none" stroke="rgb(152,255,98)" stroke-width="1.05"/><circle cx="309.50" cy="305.50" r="1.7" fill="none" stroke="rgb(140,255,108)" stroke-width="1.05"/><circle cx="272.50" cy="296.50" r="1.7" fill="none" stroke="rgb(176,255,72)" stroke-width="1.05"/><circle cx="279.50" cy="297.75" r="1.7" fill="none" stroke="rgb(176,255,72)" stroke-width="1.05"/><circle cx="291.25" cy="298.75" r="1.7" fill="none" stroke="rgb(152,255,98)" stroke-width="1.05"/><circle cx="266.00" cy="298.50" r="1.7" fill="none" stroke="rgb(176,255,72)" stroke-width="1.05"/><circle cx="268.00" cy="302.25" r="1.7" fill="none" stroke="rgb(176,255,72)" stroke-width="1.05"/><circle cx="277.25" cy="301.50" r="1.7" fill="none" stroke="rgb(176,255,72)" stroke-width="1.05"/><circle cx="280.75" cy="303.00" r="1.7" fill="none" stroke="rgb(152,255,98)" stroke-width="1.05"/><circle cx="285.50" cy="301.75" r="1.7" fill="none" stroke="rgb(152,255,98)" stroke-width="1.05"/><circle cx="273.25" cy="305.50" r="1.7" fill="none" stroke="rgb(176,255,72)" stroke-width="1.05"/><circle cx="277.50" cy="306.00" r="1.7" fill="none" stroke="rgb(176,255,72)" stroke-width="1.05"/><circle cx="281.00" cy="305.50" r="1.7" fill="none" stroke="rgb(152,255,98)" stroke-width="1.05"/><circle cx="271.50" cy="307.50" r="1.7" fill="none" stroke="rgb(176,255,72)" stroke-width="1.05"/><circle cx="275.00" cy="308.00" r="1.7" fill="none" stroke="rgb(176,255,72)" stroke-width="1.05"/><circle cx="267.25" cy="310.00" r="1.7" fill="none" stroke="rgb(176,255,72)" stroke-width="1.05"/><circle cx="271.00" cy="310.50" r="1.7" fill="none" stroke="rgb(176,255,72)" stroke-width="1.05"/><circle cx="277.50" cy="310.50" r="1.7" fill="none" stroke="rgb(176,255,72)" stroke-width="1.05"/><circle cx="286.00" cy="307.00" r="1.7" fill="none" stroke="rgb(152,255,98)" stroke-width="1.05"/><circle cx="288.00" cy="305.00" r="1.7" fill="none" stroke="rgb(152,255,98)" stroke-width="1.05"/><circle cx="289.50" cy="307.50" r="1.7" fill="none" stroke="rgb(152,255,98)" stroke-width="1.05"/><circle cx="293.00" cy="305.00" r="1.7" fill="none" stroke="rgb(140,255,108)" stroke-width="1.05"/><circle cx="295.00" cy="307.00" r="1.7" fill="none" stroke="rgb(140,255,108)" stroke-width="1.05"/><circle cx="297.00" cy="304.00" r="1.7" fill="none" stroke="rgb(140,255,108)" stroke-width="1.05"/><circle cx="271.00" cy="317.00" r="1.7" fill="none" stroke="rgb(176,255,72)" stroke-width="1.05"/><circle cx="275.00" cy="316.50" r="1.7" fill="none" stroke="rgb(176,255,72)" stroke-width="1.05"/><circle cx="279.50" cy="317.50" r="1.7" fill="none" stroke="rgb(176,255,72)" stroke-width="1.05"/><circle cx="276.50" cy="321.50" r="1.7" fill="none" stroke="rgb(176,255,72)" stroke-width="1.05"/><circle cx="285.00" cy="321.50" r="1.7" fill="none" stroke="rgb(152,255,98)" stroke-width="1.05"/><circle cx="287.00" cy="317.00" r="1.7" fill="none" stroke="rgb(152,255,98)" stroke-width="1.05"/><circle cx="268.00" cy="321.00" r="1.7" fill="none" stroke="rgb(176,255,72)" stroke-width="1.05"/><circle cx="288.50" cy="324.50" r="1.7" fill="none" stroke="rgb(152,255,98)" stroke-width="1.05"/><circle cx="293.00" cy="311.00" r="1.7" fill="none" stroke="rgb(140,255,108)" stroke-width="1.05"/><circle cx="295.00" cy="311.50" r="1.7" fill="none" stroke="rgb(140,255,108)" stroke-width="1.05"/><circle cx="297.50" cy="311.00" r="1.7" fill="none" stroke="rgb(140,255,108)" stroke-width="1.05"/><circle cx="283.00" cy="309.00" r="1.7" fill="none" stroke="rgb(152,255,98)" stroke-width="1.05"/><circle cx="284.00" cy="313.00" r="1.7" fill="none" stroke="rgb(152,255,98)" stroke-width="1.05"/><circle cx="280.00" cy="313.00" r="1.7" fill="none" stroke="rgb(152,255,98)" stroke-width="1.05"/><circle cx="276.00" cy="313.50" r="1.7" fill="none" stroke="rgb(176,255,72)" stroke-width="1.05"/><circle cx="272.00" cy="313.50" r="1.7" fill="none" stroke="rgb(176,255,72)" stroke-width="1.05"/><circle cx="268.00" cy="314.00" r="1.7" fill="none" stroke="rgb(176,255,72)" stroke-width="1.05"/><circle cx="264.00" cy="314.00" r="1.7" fill="none" stroke="rgb(176,255,72)" stroke-width="1.05"/><circle cx="260.00" cy="313.50" r="1.7" fill="none" stroke="rgb(192,255,50)" stroke-width="1.05"/><circle cx="256.00" cy="313.00" r="1.7" fill="none" stroke="rgb(192,255,50)" stroke-width="1.05"/><circle cx="289.00" cy="313.00" r="1.7" fill="none" stroke="rgb(152,255,98)" stroke-width="1.05"/><circle cx="291.00" cy="316.00" r="1.7" fill="none" stroke="rgb(152,255,98)" stroke-width="1.05"/><circle cx="282.00" cy="319.00" r="1.7" fill="none" stroke="rgb(152,255,98)" stroke-width="1.05"/><circle cx="282.00" cy="300.00" r="1.7" fill="none" stroke="rgb(152,255,98)" stroke-width="1.05"/><circle cx="286.00" cy="304.00" r="1.7" fill="none" stroke="rgb(152,255,98)" stroke-width="1.05"/><circle cx="290.00" cy="309.00" r="1.7" fill="none" stroke="rgb(152,255,98)" stroke-width="1.05"/><circle cx="294.00" cy="314.00" r="1.7" fill="none" stroke="rgb(140,255,108)" stroke-width="1.05"/><circle cx="282.00" cy="316.00" r="1.7" fill="none" stroke="rgb(152,255,98)" stroke-width="1.05"/><circle cx="286.00" cy="312.00" r="1.7" fill="none" stroke="rgb(152,255,98)" stroke-width="1.05"/><circle cx="278.00" cy="304.00" r="1.7" fill="none" stroke="rgb(176,255,72)" stroke-width="1.05"/><circle cx="274.00" cy="302.00" r="1.7" fill="none" stroke="rgb(176,255,72)" stroke-width="1.05"/><circle cx="270.00" cy="305.00" r="1.7" fill="none" stroke="rgb(176,255,72)" stroke-width="1.05"/><circle cx="266.00" cy="306.00" r="1.7" fill="none" stroke="rgb(176,255,72)" stroke-width="1.05"/><circle cx="284.00" cy="306.00" r="1.7" fill="none" stroke="rgb(152,255,98)" stroke-width="1.05"/><circle cx="292.00" cy="306.00" r="1.7" fill="none" stroke="rgb(152,255,98)" stroke-width="1.05"/><circle cx="270.00" cy="300.00" r="1.7" fill="none" stroke="rgb(176,255,72)" stroke-width="1.05"/><circle cx="284.00" cy="298.00" r="1.7" fill="none" stroke="rgb(152,255,98)" stroke-width="1.05"/><circle cx="290.00" cy="302.00" r="1.7" fill="none" stroke="rgb(152,255,98)" stroke-width="1.05"/><circle cx="295.00" cy="302.00" r="1.7" fill="none" stroke="rgb(140,255,108)" stroke-width="1.05"/><circle cx="254.00" cy="312.00" r="1.7" fill="none" stroke="rgb(192,255,50)" stroke-width="1.05"/><circle cx="249.00" cy="311.00" r="1.7" fill="none" stroke="rgb(192,255,50)" stroke-width="1.05"/><circle cx="300.00" cy="307.00" r="1.7" fill="none" stroke="rgb(140,255,108)" stroke-width="1.05"/><circle cx="303.00" cy="311.00" r="1.7" fill="none" stroke="rgb(140,255,108)" stroke-width="1.05"/><circle cx="306.00" cy="312.00" r="1.7" fill="none" stroke="rgb(140,255,108)" stroke-width="1.05"/><path d="M405.00,256.50H410.00M407.50,254.00V259.00" stroke="rgb(66,255,162)" stroke-width="1.1" fill="none"/><path d="M388.00,284.50H393.00M390.50,282.00V287.00" stroke="rgb(66,255,162)" stroke-width="1.1" fill="none"/><path d="M337.00,273.50H342.00M339.50,271.00V276.00" stroke="rgb(66,255,162)" stroke-width="1.1" fill="none"/><path d="M360.00,271.50H365.00M362.50,269.00V274.00" stroke="rgb(66,255,162)" stroke-width="1.1" fill="none"/><path d="M338.00,287.50H343.00M340.50,285.00V290.00" stroke="rgb(66,255,162)" stroke-width="1.1" fill="none"/><path d="M339.00,288.50H344.00M341.50,286.00V291.00" stroke="rgb(66,255,162)" stroke-width="1.1" fill="none"/><path d="M348.00,287.50H353.00M350.50,285.00V290.00" stroke="rgb(66,255,162)" stroke-width="1.1" fill="none"/><path d="M355.00,285.50H360.00M357.50,283.00V288.00" stroke="rgb(66,255,162)" stroke-width="1.1" fill="none"/><path d="M358.00,283.50H363.00M360.50,281.00V286.00" stroke="rgb(66,255,162)" stroke-width="1.1" fill="none"/><path d="M302.00,283.50H307.00M304.50,281.00V286.00" stroke="rgb(120,255,128)" stroke-width="1.1" fill="none"/><path d="M297.00,286.50H302.00M299.50,284.00V289.00" stroke="rgb(120,255,128)" stroke-width="1.1" fill="none"/><path d="M307.00,289.50H312.00M309.50,287.00V292.00" stroke="rgb(100,255,140)" stroke-width="1.1" fill="none"/><path d="M307.00,291.50H312.00M309.50,289.00V294.00" stroke="rgb(100,255,140)" stroke-width="1.1" fill="none"/><path d="M305.00,298.50H310.00M307.50,296.00V301.00" stroke="rgb(100,255,140)" stroke-width="1.1" fill="none"/><path d="M317.00,296.50H322.00M319.50,294.00V299.00" stroke="rgb(100,255,140)" stroke-width="1.1" fill="none"/><path d="M322.00,298.50H327.00M324.50,296.00V301.00" stroke="rgb(80,255,152)" stroke-width="1.1" fill="none"/><path d="M321.00,302.50H326.00M323.50,300.00V305.00" stroke="rgb(80,255,152)" stroke-width="1.1" fill="none"/><path d="M318.00,304.50H323.00M320.50,302.00V307.00" stroke="rgb(100,255,140)" stroke-width="1.1" fill="none"/><path d="M311.00,303.50H316.00M313.50,301.00V306.00" stroke="rgb(100,255,140)" stroke-width="1.1" fill="none"/><path d="M315.00,307.50H320.00M317.50,305.00V310.00" stroke="rgb(100,255,140)" stroke-width="1.1" fill="none"/><path d="M319.00,308.50H324.00M321.50,306.00V311.00" stroke="rgb(100,255,140)" stroke-width="1.1" fill="none"/><path d="M324.00,308.50H329.00M326.50,306.00V311.00" stroke="rgb(80,255,152)" stroke-width="1.1" fill="none"/><path d="M326.00,311.50H331.00M328.50,309.00V314.00" stroke="rgb(80,255,152)" stroke-width="1.1" fill="none"/><path d="M338.00,287.50H343.00M340.50,285.00V290.00" stroke="rgb(66,255,162)" stroke-width="1.1" fill="none"/><path d="M340.00,290.50H345.00M342.50,288.00V293.00" stroke="rgb(66,255,162)" stroke-width="1.1" fill="none"/><path d="M341.00,293.50H346.00M343.50,291.00V296.00" stroke="rgb(66,255,162)" stroke-width="1.1" fill="none"/><path d="M334.00,293.50H339.00M336.50,291.00V296.00" stroke="rgb(80,255,152)" stroke-width="1.1" fill="none"/><path d="M337.00,295.50H342.00M339.50,293.00V298.00" stroke="rgb(66,255,162)" stroke-width="1.1" fill="none"/><path d="M331.00,298.50H336.00M333.50,296.00V301.00" stroke="rgb(80,255,152)" stroke-width="1.1" fill="none"/><path d="M334.00,299.50H339.00M336.50,297.00V302.00" stroke="rgb(80,255,152)" stroke-width="1.1" fill="none"/><path d="M329.00,303.50H334.00M331.50,301.00V306.00" stroke="rgb(80,255,152)" stroke-width="1.1" fill="none"/><path d="M333.00,304.50H338.00M335.50,302.00V307.00" stroke="rgb(80,255,152)" stroke-width="1.1" fill="none"/><path d="M337.00,304.50H342.00M339.50,302.00V307.00" stroke="rgb(66,255,162)" stroke-width="1.1" fill="none"/><path d="M334.00,307.50H339.00M336.50,305.00V310.00" stroke="rgb(80,255,152)" stroke-width="1.1" fill="none"/><path d="M340.00,302.50H345.00M342.50,300.00V305.00" stroke="rgb(66,255,162)" stroke-width="1.1" fill="none"/><path d="M343.00,299.50H348.00M345.50,297.00V302.00" stroke="rgb(66,255,162)" stroke-width="1.1" fill="none"/><path d="M345.00,298.50H350.00M347.50,296.00V301.00" stroke="rgb(66,255,162)" stroke-width="1.1" fill="none"/><path d="M348.00,304.50H353.00M350.50,302.00V307.00" stroke="rgb(66,255,162)" stroke-width="1.1" fill="none"/><path d="M348.00,287.50H353.00M350.50,285.00V290.00" stroke="rgb(66,255,162)" stroke-width="1.1" fill="none"/><path d="M355.00,285.50H360.00M357.50,283.00V288.00" stroke="rgb(66,255,162)" stroke-width="1.1" fill="none"/><path d="M355.00,291.50H360.00M357.50,289.00V294.00" stroke="rgb(66,255,162)" stroke-width="1.1" fill="none"/><path d="M355.00,295.50H360.00M357.50,293.00V298.00" stroke="rgb(66,255,162)" stroke-width="1.1" fill="none"/><path d="M354.00,299.50H359.00M356.50,297.00V302.00" stroke="rgb(66,255,162)" stroke-width="1.1" fill="none"/><path d="M320.00,319.50H325.00M322.50,317.00V322.00" stroke="rgb(80,255,152)" stroke-width="1.1" fill="none"/><path d="M324.00,319.50H329.00M326.50,317.00V322.00" stroke="rgb(80,255,152)" stroke-width="1.1" fill="none"/><path d="M327.00,320.50H332.00M329.50,318.00V323.00" stroke="rgb(80,255,152)" stroke-width="1.1" fill="none"/><path d="M307.00,310.50H312.00M309.50,308.00V313.00" stroke="rgb(100,255,140)" stroke-width="1.1" fill="none"/><path d="M313.00,311.50H318.00M315.50,309.00V314.00" stroke="rgb(100,255,140)" stroke-width="1.1" fill="none"/><path d="M315.00,316.50H320.00M317.50,314.00V319.00" stroke="rgb(100,255,140)" stroke-width="1.1" fill="none"/><path d="M310.00,315.50H315.00M312.50,313.00V318.00" stroke="rgb(100,255,140)" stroke-width="1.1" fill="none"/><path d="M306.00,322.50H311.00M308.50,320.00V325.00" stroke="rgb(100,255,140)" stroke-width="1.1" fill="none"/><path d="M302.00,313.50H307.00M304.50,311.00V316.00" stroke="rgb(120,255,128)" stroke-width="1.1" fill="none"/><path d="M299.00,324.50H304.00M301.50,322.00V327.00" stroke="rgb(120,255,128)" stroke-width="1.1" fill="none"/><path d="M292.00,327.50H297.00M294.50,325.00V330.00" stroke="rgb(120,255,128)" stroke-width="1.1" fill="none"/><path d="M305.00,339.50H310.00M307.50,337.00V342.00" stroke="rgb(100,255,140)" stroke-width="1.1" fill="none"/><path d="M304.00,327.50H309.00M306.50,325.00V330.00" stroke="rgb(100,255,140)" stroke-width="1.1" fill="none"/><path d="M306.00,324.50H311.00M308.50,322.00V327.00" stroke="rgb(100,255,140)" stroke-width="1.1" fill="none"/><path d="M312.00,327.50H317.00M314.50,325.00V330.00" stroke="rgb(100,255,140)" stroke-width="1.1" fill="none"/><path d="M307.00,319.50H312.00M309.50,317.00V322.00" stroke="rgb(100,255,140)" stroke-width="1.1" fill="none"/><path d="M315.00,317.50H320.00M317.50,315.00V320.00" stroke="rgb(100,255,140)" stroke-width="1.1" fill="none"/><path d="M320.00,319.50H325.00M322.50,317.00V322.00" stroke="rgb(80,255,152)" stroke-width="1.1" fill="none"/><path d="M324.00,318.50H329.00M326.50,316.00V321.00" stroke="rgb(80,255,152)" stroke-width="1.1" fill="none"/><path d="M326.00,320.50H331.00M328.50,318.00V323.00" stroke="rgb(80,255,152)" stroke-width="1.1" fill="none"/><path d="M319.00,310.50H324.00M321.50,308.00V313.00" stroke="rgb(100,255,140)" stroke-width="1.1" fill="none"/><path d="M325.00,311.50H330.00M327.50,309.00V314.00" stroke="rgb(80,255,152)" stroke-width="1.1" fill="none"/><path d="M302.00,315.50H307.00M304.50,313.00V318.00" stroke="rgb(120,255,128)" stroke-width="1.1" fill="none"/><path d="M308.00,317.50H313.00M310.50,315.00V320.00" stroke="rgb(100,255,140)" stroke-width="1.1" fill="none"/><path d="M312.00,314.50H317.00M314.50,312.00V317.00" stroke="rgb(100,255,140)" stroke-width="1.1" fill="none"/><path d="M291.00,314.50H296.00M293.50,312.00V317.00" stroke="rgb(120,255,128)" stroke-width="1.1" fill="none"/><path d="M356.00,285.50H361.00M358.50,283.00V288.00" stroke="rgb(66,255,162)" stroke-width="1.1" fill="none"/><path d="M358.00,283.50H363.00M360.50,281.00V286.00" stroke="rgb(66,255,162)" stroke-width="1.1" fill="none"/><path d="M356.00,291.50H361.00M358.50,289.00V294.00" stroke="rgb(66,255,162)" stroke-width="1.1" fill="none"/><path d="M355.00,295.50H360.00M357.50,293.00V298.00" stroke="rgb(66,255,162)" stroke-width="1.1" fill="none"/><path d="M354.00,299.50H359.00M356.50,297.00V302.00" stroke="rgb(66,255,162)" stroke-width="1.1" fill="none"/><path d="M348.00,304.50H353.00M350.50,302.00V307.00" stroke="rgb(66,255,162)" stroke-width="1.1" fill="none"/><path d="M345.00,299.50H350.00M347.50,297.00V302.00" stroke="rgb(66,255,162)" stroke-width="1.1" fill="none"/><path d="M341.00,294.50H346.00M343.50,292.00V297.00" stroke="rgb(66,255,162)" stroke-width="1.1" fill="none"/><path d="M340.00,290.50H345.00M342.50,288.00V293.00" stroke="rgb(66,255,162)" stroke-width="1.1" fill="none"/><path d="M285.00,339.50H290.00M287.50,337.00V342.00" stroke="rgb(120,255,128)" stroke-width="1.1" fill="none"/><path d="M291.00,327.50H296.00M293.50,325.00V330.00" stroke="rgb(120,255,128)" stroke-width="1.1" fill="none"/><path d="M285.00,319.50H290.00M287.50,317.00V322.00" stroke="rgb(120,255,128)" stroke-width="1.1" fill="none"/><path d="M291.00,313.50H296.00M293.50,311.00V316.00" stroke="rgb(120,255,128)" stroke-width="1.1" fill="none"/><path d="M302.00,292.50H307.00M304.50,290.00V295.00" stroke="rgb(120,255,128)" stroke-width="1.1" fill="none"/><path d="M305.00,298.50H310.00M307.50,296.00V301.00" stroke="rgb(100,255,140)" stroke-width="1.1" fill="none"/><path d="M295.00,298.50H300.00M297.50,296.00V301.00" stroke="rgb(120,255,128)" stroke-width="1.1" fill="none"/><path d="M311.00,302.50H316.00M313.50,300.00V305.00" stroke="rgb(100,255,140)" stroke-width="1.1" fill="none"/><path d="M295.00,298.50H300.00M297.50,296.00V301.00" stroke="rgb(120,255,128)" stroke-width="1.1" fill="none"/><path d="M298.00,300.50H303.00M300.50,298.00V303.00" stroke="rgb(120,255,128)" stroke-width="1.1" fill="none"/><path d="M301.00,299.50H306.00M303.50,297.00V302.00" stroke="rgb(120,255,128)" stroke-width="1.1" fill="none"/><path d="M299.00,304.50H304.00M301.50,302.00V307.00" stroke="rgb(120,255,128)" stroke-width="1.1" fill="none"/><path d="M301.00,308.50H306.00M303.50,306.00V311.00" stroke="rgb(120,255,128)" stroke-width="1.1" fill="none"/><path d="M298.00,311.50H303.00M300.50,309.00V314.00" stroke="rgb(120,255,128)" stroke-width="1.1" fill="none"/><path d="M291.00,314.50H296.00M293.50,312.00V317.00" stroke="rgb(120,255,128)" stroke-width="1.1" fill="none"/><path d="M300.00,316.50H305.00M302.50,314.00V319.00" stroke="rgb(120,255,128)" stroke-width="1.1" fill="none"/><path d="M288.00,318.50H293.00M290.50,316.00V321.00" stroke="rgb(120,255,128)" stroke-width="1.1" fill="none"/><path d="M284.00,318.50H289.00M286.50,316.00V321.00" stroke="rgb(120,255,128)" stroke-width="1.1" fill="none"/><path d="M297.00,323.50H302.00M299.50,321.00V326.00" stroke="rgb(120,255,128)" stroke-width="1.1" fill="none"/><path d="M302.00,295.50H307.00M304.50,293.00V298.00" stroke="rgb(120,255,128)" stroke-width="1.1" fill="none"/><path d="M300.00,296.50H305.00M302.50,294.00V299.00" stroke="rgb(120,255,128)" stroke-width="1.1" fill="none"/><path d="M294.00,302.50H299.00M296.50,300.00V305.00" stroke="rgb(120,255,128)" stroke-width="1.1" fill="none"/><path d="M297.00,306.50H302.00M299.50,304.00V309.00" stroke="rgb(120,255,128)" stroke-width="1.1" fill="none"/><path d="M296.00,316.50H301.00M298.50,314.00V319.00" stroke="rgb(120,255,128)" stroke-width="1.1" fill="none"/><path d="M293.00,320.50H298.00M295.50,318.00V323.00" stroke="rgb(120,255,128)" stroke-width="1.1" fill="none"/><path d="M288.00,312.50H293.00M290.50,310.00V315.00" stroke="rgb(120,255,128)" stroke-width="1.1" fill="none"/><path d="M302.00,304.50H307.00M304.50,302.00V307.00" stroke="rgb(120,255,128)" stroke-width="1.1" fill="none"/><path d="M304.00,294.50H309.00M306.50,292.00V297.00" stroke="rgb(100,255,140)" stroke-width="1.1" fill="none"/><path d="M303.00,302.50H308.00M305.50,300.00V305.00" stroke="rgb(100,255,140)" stroke-width="1.1" fill="none"/><path d="M308.00,300.50H313.00M310.50,298.00V303.00" stroke="rgb(100,255,140)" stroke-width="1.1" fill="none"/><path d="M294.00,318.50H299.00M296.50,316.00V321.00" stroke="rgb(120,255,128)" stroke-width="1.1" fill="none"/><path d="M290.00,320.50H295.00M292.50,318.00V323.00" stroke="rgb(120,255,128)" stroke-width="1.1" fill="none"/><path d="M303.00,306.50H308.00M305.50,304.00V309.00" stroke="rgb(100,255,140)" stroke-width="1.1" fill="none"/><path d="M314.00,300.50H319.00M316.50,298.00V303.00" stroke="rgb(100,255,140)" stroke-width="1.1" fill="none"/><path d="M309.00,296.50H314.00M311.50,294.00V299.00" stroke="rgb(100,255,140)" stroke-width="1.1" fill="none"/><polyline points="299.75,308.5 275.25,310.5 297.75,320.5" fill="none" stroke="#d8d8d8" stroke-width="1.2"/><text x="595" y="71" font-family="Liberation Mono" font-size="11.6" xml:space="preserve">Num of Sources</text><text x="790.5" y="71" text-anchor="end" font-family="Liberation Mono" font-size="11.6">276</text><text x="595" y="85" font-family="Liberation Mono" font-size="11.6" xml:space="preserve">Min Freq, kHz</text><text x="790.5" y="85" text-anchor="end" font-family="Liberation Mono" font-size="11.6">5680</text><text x="595" y="99" font-family="Liberation Mono" font-size="11.6" xml:space="preserve">Max Freq, kHz</text><text x="790.5" y="99" text-anchor="end" font-family="Liberation Mono" font-size="11.6">5980</text><text x="595" y="113" font-family="Liberation Mono" font-size="11.6" xml:space="preserve">Min Range, km</text><text x="790.5" y="113" text-anchor="end" font-family="Liberation Mono" font-size="11.6">390</text><text x="595" y="127" font-family="Liberation Mono" font-size="11.6" xml:space="preserve">Max Range, km</text><text x="790.5" y="127" text-anchor="end" font-family="Liberation Mono" font-size="11.6">415</text><text x="595" y="141" font-family="Liberation Mono" font-size="11.6" xml:space="preserve">Max Amp, dB</text><text x="790.5" y="141" text-anchor="end" font-family="Liberation Mono" font-size="11.6">65</text><text x="595" y="155" font-family="Liberation Mono" font-size="11.6" xml:space="preserve">Max SNR Amp, dB</text><text x="790.5" y="155" text-anchor="end" font-family="Liberation Mono" font-size="11.6">41</text><text x="595" y="169" font-family="Liberation Mono" font-size="11.6" xml:space="preserve">Min SNR Amp, dB</text><text x="790.5" y="169" text-anchor="end" font-family="Liberation Mono" font-size="11.6">12</text><text x="595" y="183" font-family="Liberation Mono" font-size="11.6" xml:space="preserve">Avg SNR Amp, dB</text><text x="790.5" y="183" text-anchor="end" font-family="Liberation Mono" font-size="11.6">20</text><text x="595" y="197" font-family="Liberation Mono" font-size="11.6" xml:space="preserve">Max RMS Err, deg</text><text x="790.5" y="197" text-anchor="end" font-family="Liberation Mono" font-size="11.6">24.0</text><text x="595" y="211" font-family="Liberation Mono" font-size="11.6" xml:space="preserve">Min RMS Err, deg</text><text x="790.5" y="211" text-anchor="end" font-family="Liberation Mono" font-size="11.6">0.0</text><text x="595" y="225" font-family="Liberation Mono" font-size="11.6" xml:space="preserve">Avg RMS Err, deg</text><text x="790.5" y="225" text-anchor="end" font-family="Liberation Mono" font-size="11.6">3.9</text><text x="595" y="239" font-family="Liberation Mono" font-size="11.6" xml:space="preserve">Doppler Res, Hz</text><text x="790.5" y="239" text-anchor="end" font-family="Liberation Mono" font-size="11.6">0.0488</text><text x="595" y="253" font-family="Liberation Mono" font-size="11.6" xml:space="preserve">CIT, sec</text><text x="790.5" y="253" text-anchor="end" font-family="Liberation Mono" font-size="11.6">20.48</text><text x="595" y="267" font-family="Liberation Mono" font-size="11.6" xml:space="preserve">Num of CITs</text><text x="790.5" y="267" text-anchor="end" font-family="Liberation Mono" font-size="11.6">3</text><text x="595" y="281" font-family="Liberation Mono" font-size="11.6" xml:space="preserve">Polarization</text><text x="790.5" y="281" text-anchor="end" font-family="Liberation Mono" font-size="11.6">O-mode</text><text x="595" y="295" font-family="Liberation Mono" font-size="11.6" xml:space="preserve">Center of Sources, deg:</text><text x="595" y="309" font-family="Liberation Mono" font-size="11.6" xml:space="preserve">          Zenith</text><text x="790.5" y="309" text-anchor="end" font-family="Liberation Mono" font-size="11.6">1.2</text><text x="595" y="323" font-family="Liberation Mono" font-size="11.6" xml:space="preserve">          Azimuth</text><text x="790.5" y="323" text-anchor="end" font-family="Liberation Mono" font-size="11.6">30</text><defs><linearGradient id="cb" x1="0" y1="1" x2="0" y2="0"><stop offset="0.000" stop-color="rgb(170,0,0)"/><stop offset="0.050" stop-color="rgb(214,0,0)"/><stop offset="0.100" stop-color="rgb(255,3,0)"/><stop offset="0.150" stop-color="rgb(255,56,0)"/><stop offset="0.200" stop-color="rgb(255,109,0)"/><stop offset="0.250" stop-color="rgb(255,161,0)"/><stop offset="0.300" stop-color="rgb(255,214,0)"/><stop offset="0.350" stop-color="rgb(246,255,9)"/><stop offset="0.400" stop-color="rgb(207,255,48)"/><stop offset="0.450" stop-color="rgb(167,255,88)"/><stop offset="0.500" stop-color="rgb(128,255,128)"/><stop offset="0.550" stop-color="rgb(88,255,167)"/><stop offset="0.600" stop-color="rgb(48,255,207)"/><stop offset="0.650" stop-color="rgb(9,255,246)"/><stop offset="0.700" stop-color="rgb(0,214,255)"/><stop offset="0.750" stop-color="rgb(0,161,255)"/><stop offset="0.800" stop-color="rgb(0,109,255)"/><stop offset="0.850" stop-color="rgb(0,56,255)"/><stop offset="0.900" stop-color="rgb(0,3,255)"/><stop offset="0.950" stop-color="rgb(0,0,214)"/><stop offset="1.000" stop-color="rgb(0,0,170)"/></linearGradient></defs><rect x="593" y="341" width="15.5" height="242" fill="url(#cb)"/><line x1="608.8" y1="341" x2="608.8" y2="583" stroke="#000" stroke-width="1.3"/><path d="M608.8,341.50H615.5M608.8,345.50H615.5M608.8,349.50H612.5M608.8,353.50H612.5M608.8,357.50H612.5M608.8,361.50H612.5M608.8,364.50H615.5M608.8,368.50H612.5M608.8,372.50H612.5M608.8,376.50H612.5M608.8,380.50H612.5M608.8,384.50H615.5M608.8,388.50H612.5M608.8,392.50H612.5M608.8,396.50H612.5M608.8,399.50H612.5M608.8,403.50H615.5M608.8,407.50H612.5M608.8,411.50H612.5M608.8,415.50H612.5M608.8,419.50H612.5M608.8,423.50H615.5M608.8,427.50H612.5M608.8,431.50H612.5M608.8,434.50H612.5M608.8,438.50H612.5M608.8,442.50H615.5M608.8,446.50H612.5M608.8,450.50H612.5M608.8,454.50H612.5M608.8,458.50H612.5M608.8,462.50H615.5M608.8,465.50H612.5M608.8,469.50H612.5M608.8,473.50H612.5M608.8,477.50H612.5M608.8,481.50H615.5M608.8,485.50H612.5M608.8,489.50H612.5M608.8,493.50H612.5M608.8,497.50H612.5M608.8,500.50H615.5M608.8,504.50H612.5M608.8,508.50H612.5M608.8,512.50H612.5M608.8,516.50H612.5M608.8,520.50H615.5M608.8,524.50H612.5M608.8,528.50H612.5M608.8,532.50H612.5M608.8,535.50H612.5M608.8,539.50H615.5M608.8,543.50H612.5M608.8,547.50H612.5M608.8,551.50H612.5M608.8,555.50H612.5M608.8,559.50H615.5M608.8,563.50H612.5M608.8,567.50H612.5M608.8,570.50H612.5M608.8,574.50H612.5M608.8,578.50H615.5M608.8,582.50H615.5" stroke="#000" stroke-width="1.1" fill="none"/><text x="617.5" y="345.00" font-family="Liberation Sans" font-weight="bold" font-size="10.5" stroke="#000" stroke-width="0.25" textLength="18" lengthAdjust="spacingAndGlyphs">3.1</text><text x="617.5" y="368.32" font-family="Liberation Sans" font-weight="bold" font-size="10.5" stroke="#000" stroke-width="0.25" textLength="18" lengthAdjust="spacingAndGlyphs">2.5</text><text x="617.5" y="387.76" font-family="Liberation Sans" font-weight="bold" font-size="10.5" stroke="#000" stroke-width="0.25" textLength="18" lengthAdjust="spacingAndGlyphs">2.0</text><text x="617.5" y="407.19" font-family="Liberation Sans" font-weight="bold" font-size="10.5" stroke="#000" stroke-width="0.25" textLength="18" lengthAdjust="spacingAndGlyphs">1.5</text><text x="617.5" y="426.63" font-family="Liberation Sans" font-weight="bold" font-size="10.5" stroke="#000" stroke-width="0.25" textLength="18" lengthAdjust="spacingAndGlyphs">1.0</text><text x="617.5" y="446.06" font-family="Liberation Sans" font-weight="bold" font-size="10.5" stroke="#000" stroke-width="0.25" textLength="18" lengthAdjust="spacingAndGlyphs">0.5</text><text x="617.5" y="465.50" font-family="Liberation Sans" font-weight="bold" font-size="10.5" stroke="#000" stroke-width="0.25" textLength="6.5" lengthAdjust="spacingAndGlyphs">0</text><text x="617.5" y="484.93" font-family="Liberation Sans" font-weight="bold" font-size="10.5" stroke="#000" stroke-width="0.25" textLength="23" lengthAdjust="spacingAndGlyphs">-0.5</text><text x="617.5" y="504.37" font-family="Liberation Sans" font-weight="bold" font-size="10.5" stroke="#000" stroke-width="0.25" textLength="23" lengthAdjust="spacingAndGlyphs">-1.0</text><text x="617.5" y="523.80" font-family="Liberation Sans" font-weight="bold" font-size="10.5" stroke="#000" stroke-width="0.25" textLength="23" lengthAdjust="spacingAndGlyphs">-1.5</text><text x="617.5" y="543.24" font-family="Liberation Sans" font-weight="bold" font-size="10.5" stroke="#000" stroke-width="0.25" textLength="23" lengthAdjust="spacingAndGlyphs">-2.0</text><text x="617.5" y="562.67" font-family="Liberation Sans" font-weight="bold" font-size="10.5" stroke="#000" stroke-width="0.25" textLength="23" lengthAdjust="spacingAndGlyphs">-2.5</text><text x="617.5" y="585.99" font-family="Liberation Sans" font-weight="bold" font-size="10.5" stroke="#000" stroke-width="0.25" textLength="23" lengthAdjust="spacingAndGlyphs">-3.1</text><text transform="translate(657.5,492) rotate(-90)" font-family="Liberation Sans" font-weight="bold" font-size="10.5" stroke="#000" stroke-width="0.2" textLength="53" lengthAdjust="spacingAndGlyphs">Doppler, Hz</text><path d="M668.8,402.6H677.2M673,398.4V406.8" stroke="#1212dc" stroke-width="1.3" fill="none"/><text x="682.5" y="406.8" font-family="Liberation Sans" font-weight="bold" font-size="11" fill="#1212dc" textLength="44.5" lengthAdjust="spacingAndGlyphs">Positive</text><circle cx="672.9" cy="522.9" r="2.4" fill="none" stroke="#ea1616" stroke-width="1.2"/><text x="682.5" y="526.5" font-family="Liberation Sans" font-weight="bold" font-size="11" fill="#ea1616" textLength="50.5" lengthAdjust="spacingAndGlyphs">Negative</text><text x="654.7" y="593.2" font-family="Liberation Sans" font-size="9.6" textLength="88" lengthAdjust="spacingAndGlyphs">ShowSkymap v 1.0</text><text x="753.7" y="593.2" font-family="Liberation Sans" font-size="9.6" textLength="38.3" lengthAdjust="spacingAndGlyphs">SD v 5.1</text><text x="11" y="572" font-family="Liberation Mono" font-size="13.2" font-style="italic">V</text><text x="19" y="575.8" font-family="Liberation Mono" font-size="10.8">h</text><text x="25" y="572" font-family="Liberation Mono" font-size="11.7" font-style="italic" xml:space="preserve"> = 73 <tspan font-style="normal">±</tspan> 29 <tspan font-style="normal">m/s</tspan></text><text x="11" y="592.2" font-family="Liberation Mono" font-size="11.7" font-style="italic">Geographic coordinates</text><text x="480.3" y="572" font-family="Liberation Mono" font-size="13.2" font-style="italic">V</text><text x="488" y="575.8" font-family="Liberation Mono" font-size="10.8">z</text><text x="494" y="572" font-family="Liberation Mono" font-size="11.7" font-style="italic" xml:space="preserve"> = 1 <tspan font-style="normal">±</tspan> 1 <tspan font-style="normal">m/s</tspan></text><text x="418" y="592.2" font-family="Liberation Mono" font-size="11.7" font-style="italic" xml:space="preserve" textLength="163.5" lengthAdjust="spacingAndGlyphs">Zenith: max 40°  step 5°</text><path d="M720.6,319.3 L722.2,320.6 C722.8,318.6 723.8,317.6 724.8,318.2 L725.6,319.6" fill="none" stroke="#222" stroke-width="1.1" stroke-linecap="round"/></svg></body></html>
